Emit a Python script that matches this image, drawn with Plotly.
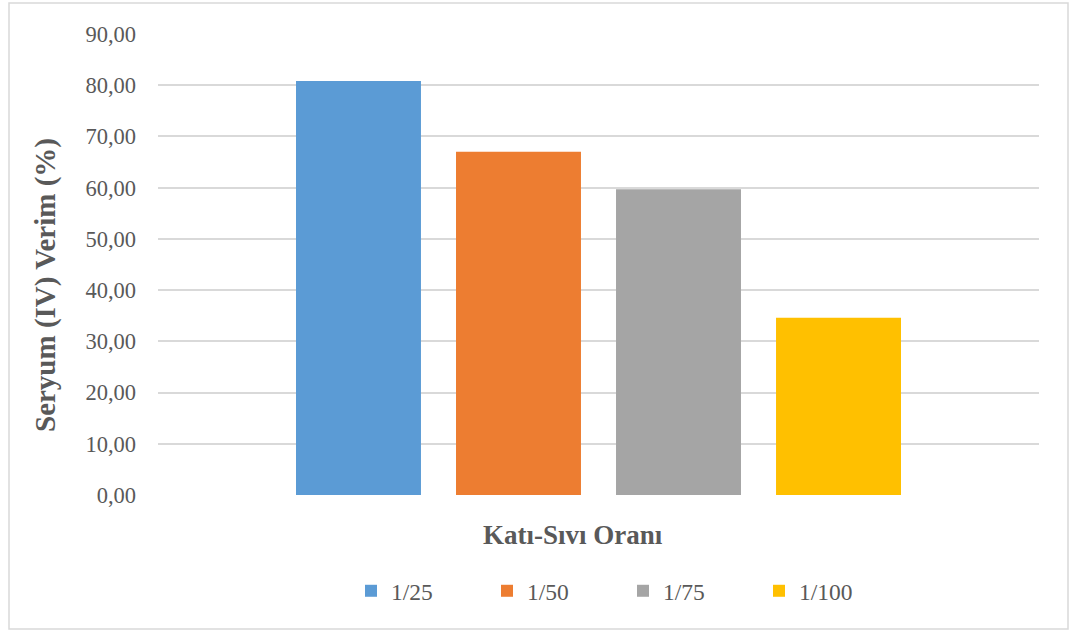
import plotly.graph_objects as go

# Solid/liquid ratio series and cerium(IV) yield (%)
ratios = ["1/25", "1/50", "1/75", "1/100"]
yields = [80.8, 67.0, 59.7, 34.6]
colors = ["#5B9BD5", "#ED7D31", "#A5A5A5", "#FFC000"]
y_ticks = [0, 10, 20, 30, 40, 50, 60, 70, 80, 90]

W, H = 1080, 635
L, R, T, B = 158, 41, 34, 140
pw, ph = W - L - R, H - T - B


def px_x(x):
    return (x - L) / pw


def px_y(y):
    return (H - B - y) / ph


text_col = "#595959"
serif = "Liberation Serif, Times New Roman, serif"

fig = go.Figure()
for name, val, col in zip(ratios, yields, colors):
    fig.add_trace(go.Bar(
        x=[0], y=[val], name=name,
        marker=dict(color=col, line=dict(width=0)),
    ))

fig.update_layout(
    width=W, height=H,
    margin=dict(l=L, r=R, t=T, b=B),
    paper_bgcolor="white", plot_bgcolor="white",
    barmode="group", bargap=0.2735, bargroupgap=0.219,
    separators=", ",
    font=dict(family=serif, color=text_col, size=22),
    showlegend=True,
    legend=dict(
        orientation="h", x=px_x(351), xanchor="left",
        y=px_y(591), yanchor="middle",
        font=dict(size=23.5, color=text_col, family=serif),
        entrywidth=91, entrywidthmode="pixels",
        bgcolor="rgba(0,0,0,0)",
    ),
    xaxis=dict(
        range=[-0.5, 0.5], showticklabels=False, showgrid=False,
        zeroline=False, showline=False, fixedrange=True,
    ),
    yaxis=dict(
        range=[0, 90], tickvals=y_ticks, tickformat=".2f",
        showgrid=True, gridcolor="#D9D9D9", gridwidth=1.8,
        zeroline=False, showline=False, ticks="",
        ticklabelstandoff=21,
        tickfont=dict(size=22.5, color=text_col, family=serif),
    ),
    annotations=[
        dict(text="<b>Seryum (IV) Verim (%)</b>", textangle=-90,
             xref="paper", yref="paper", x=px_x(45), y=px_y(285),
             xanchor="center", yanchor="middle", showarrow=False,
             font=dict(size=29, color=text_col, family=serif)),
        dict(text="<b>Katı-Sıvı Oranı</b>",
             xref="paper", yref="paper", x=px_x(573), y=px_y(535),
             xanchor="center", yanchor="middle", showarrow=False,
             font=dict(size=27, color=text_col, family=serif)),
    ],
    shapes=[
        dict(type="rect", xref="paper", yref="paper",
             x0=px_x(9), x1=px_x(1068), y0=px_y(629), y1=px_y(3),
             line=dict(color="#D9D9D9", width=1.5), layer="below"),
    ],
)

fig.write_html("out.html")
